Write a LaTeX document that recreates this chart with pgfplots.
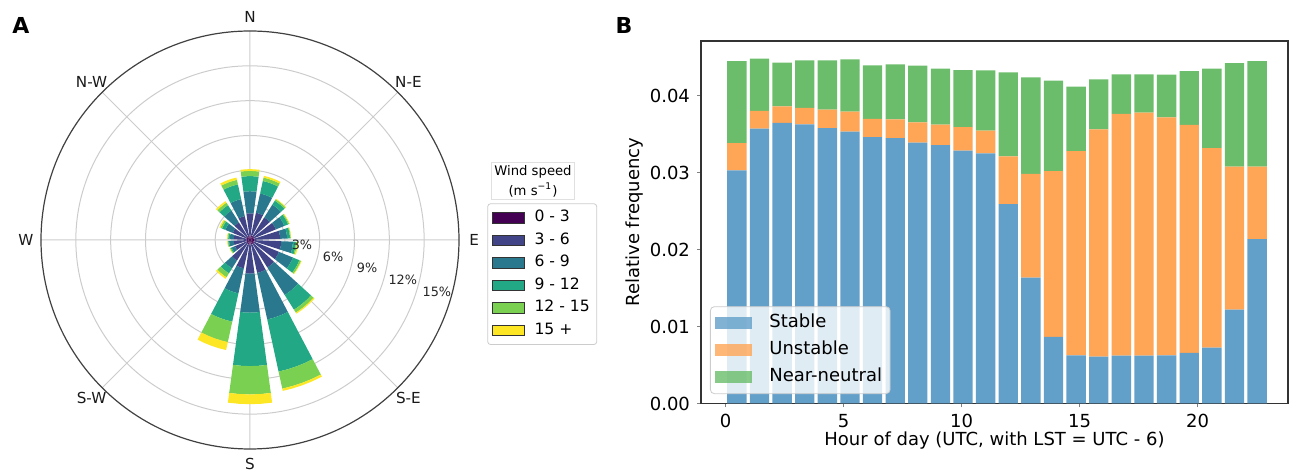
\documentclass[border=0pt]{standalone}
\usepackage{fontspec}
\setmainfont{DejaVu Sans}
\usepackage{pgfplots}
\usepackage{pgfplotstable}
\pgfplotsset{compat=1.18}
\usepgfplotslibrary{polar}

\definecolor{vir0}{HTML}{440154}
\definecolor{vir1}{HTML}{414487}
\definecolor{vir2}{HTML}{2A788E}
\definecolor{vir3}{HTML}{22A884}
\definecolor{vir4}{HTML}{7AD151}
\definecolor{vir5}{HTML}{FDE725}
\definecolor{cstable}{HTML}{62A0CA}
\definecolor{cunstable}{HTML}{FFA556}
\definecolor{cneutral}{HTML}{6BBD6B}

% cumulative radii (%) of the speed bins per direction (compass degrees)
\pgfplotstableread{
dir r1 r2 r3 r4 r5 r6
0   0.40 2.30 4.20 5.50 5.95 6.10
20  0.40 2.40 4.10 5.20 5.50 5.65
40  0.40 2.30 3.60 4.00 4.15 4.20
60  0.40 2.40 3.20 3.55 3.65 3.70
80  0.40 2.60 3.20 3.45 3.52 3.55
100 0.40 2.70 3.70 3.95 4.05 4.15
120 0.40 2.70 4.00 4.60 4.75 4.80
140 0.40 2.80 5.60 7.10 7.40 7.50
160 0.40 2.90 7.00 11.60 13.10 13.30
180 0.40 2.90 6.26 10.86 13.30 14.14
200 0.40 2.50 4.70 7.20 9.00 9.70
220 0.35 2.10 2.90 3.40 3.80 3.95
240 0.30 1.40 1.70 1.80 1.87 1.90
260 0.30 1.40 1.80 1.88 1.93 1.97
280 0.30 1.40 1.75 1.88 1.95 2.00
300 0.35 1.60 2.30 2.60 2.75 2.85
320 0.35 1.80 3.00 3.55 3.80 3.95
340 0.35 2.10 3.60 4.90 5.30 5.50
}\windtable

\pgfplotstableread{
x stable unstable neutral
0.479  0.03029 0.00354 0.01065
1.438  0.03569 0.00230 0.00679
2.396  0.03643 0.00217 0.00566
3.354  0.03626 0.00212 0.00619
4.313  0.03578 0.00238 0.00641
5.271  0.03530 0.00260 0.00680
6.229  0.03461 0.00234 0.00697
7.188  0.03448 0.00243 0.00714
8.146  0.03387 0.00265 0.00735
9.104  0.03357 0.00264 0.00727
10.063 0.03283 0.00308 0.00740
11.021 0.03247 0.00298 0.00780
11.979 0.02588 0.00622 0.01089
12.938 0.01634 0.01347 0.01255
13.896 0.00864 0.02155 0.01173
14.854 0.00626 0.02653 0.00835
15.813 0.00608 0.02953 0.00649
16.771 0.00621 0.03139 0.00515
17.729 0.00621 0.03156 0.00498
18.688 0.00626 0.03091 0.00553
19.646 0.00656 0.02961 0.00701
20.604 0.00725 0.02593 0.01030
21.563 0.01218 0.01857 0.01347
22.521 0.02136 0.00939 0.01373
}\hourtable

\newcommand\wedgeplot[4]{%
  \pgfmathsetmacro\wgA{90-#1-7.75}%
  \pgfmathsetmacro\wgB{90-#1-3.875}%
  \pgfmathsetmacro\wgC{90-#1}%
  \pgfmathsetmacro\wgD{90-#1+3.875}%
  \pgfmathsetmacro\wgE{90-#1+7.75}%
  \edef\wgcmd{\noexpand\addplot[fill=#4, draw=none, forget plot] coordinates {(\wgA,#2) (\wgB,#2) (\wgC,#2) (\wgD,#2) (\wgE,#2) (\wgE,#3) (\wgD,#3) (\wgC,#3) (\wgB,#3) (\wgA,#3)} --cycle;}%
  \wgcmd}

\pgfplotsset{
  roselegend/.style={legend image code/.code={\draw[##1, sharp corners, draw=black!80, line width=0.4pt] (0pt,-2.65pt) rectangle (16pt,2.65pt);}},
  barlegend/.style={legend image code/.code={\fill[##1, sharp corners] (0pt,-3pt) rectangle (18.5pt,3pt);}},
}

\begin{document}
\begin{tikzpicture}
\useasboundingbox (0,0) rectangle (649pt,235pt);
\begin{polaraxis}[
  at={(125pt,115pt)}, anchor=center,
  width=209pt, height=209pt, scale only axis,
  xmin=0, xmax=360, ymin=0, ymax=18,
  xtick={0,45,...,315},
  xticklabels={},
  ytick={3,6,9,12,15},
  yticklabels={},
  grid=major,
  major grid style={line width=0.5pt, draw=black!20},
  axis line style={line width=0.6pt, draw=black!75},
  y axis line style={draw=none},
  major tick length=0pt,
  clip=false,
]
\pgfplotsforeachungrouped \i in {0,...,17}{%
  \pgfplotstablegetelem{\i}{dir}\of\windtable \edef\wdir{\pgfplotsretval}%
  \pgfplotstablegetelem{\i}{r1}\of\windtable \edef\wra{\pgfplotsretval}%
  \pgfplotstablegetelem{\i}{r2}\of\windtable \edef\wrb{\pgfplotsretval}%
  \pgfplotstablegetelem{\i}{r3}\of\windtable \edef\wrc{\pgfplotsretval}%
  \pgfplotstablegetelem{\i}{r4}\of\windtable \edef\wrd{\pgfplotsretval}%
  \pgfplotstablegetelem{\i}{r5}\of\windtable \edef\wre{\pgfplotsretval}%
  \pgfplotstablegetelem{\i}{r6}\of\windtable \edef\wrf{\pgfplotsretval}%
  \wedgeplot{\wdir}{0}{\wra}{vir0}%
  \wedgeplot{\wdir}{\wra}{\wrb}{vir1}%
  \wedgeplot{\wdir}{\wrb}{\wrc}{vir2}%
  \wedgeplot{\wdir}{\wrc}{\wrd}{vir3}%
  \wedgeplot{\wdir}{\wrd}{\wre}{vir4}%
  \wedgeplot{\wdir}{\wre}{\wrf}{vir5}%
}
\begin{scope}[every node/.style={font=\fontsize{7.6}{9}\selectfont, text=black!90}]
\node at (axis cs:90,19.25) {N};
\node at (axis cs:45,19.3) {N-E};
\node at (axis cs:0,19.3) {E};
\node at (axis cs:-45,19.3) {S-E};
\node at (axis cs:-90,19.25) {S};
\node at (axis cs:-135,19.3) {S-W};
\node at (axis cs:180,19.3) {W};
\node at (axis cs:135,19.3) {N-W};
\end{scope}
\begin{scope}[every node/.style={font=\fontsize{6.4}{8}\selectfont, text=black!85}]
\node at (axis cs:-5.5,4.5) {3\%};
\node at (axis cs:-11.6,7.3) {6\%};
\node at (axis cs:-13.5,10.37) {9\%};
\node at (axis cs:-14.7,13.6) {12\%};
\node at (axis cs:-15.5,16.7) {15\%};
\end{scope}
\end{polaraxis}
\node[draw=black!12, align=center, font=\fontsize{6.6}{10}\selectfont, inner sep=1.5pt] at (266.5pt,144.5pt) {Wind speed\\(m s\textsuperscript{−1})};

% legend holder for the wind rose
\begin{axis}[
  at={(243.65pt,133.35pt)}, anchor=north west,
  width=5pt, height=5pt, scale only axis, hide axis,
  xmin=0, xmax=1, ymin=0, ymax=1,
  roselegend,
  legend entries={0 - 3,3 - 6,6 - 9,9 - 12,12 - 15,15 +},
  legend cell align=left,
  legend style={at={(0,1)}, anchor=north west, draw=black!20, rounded corners=1.5pt,
    font=\fontsize{7.8}{9}\selectfont, row sep=1.05pt, inner sep=2pt,
    /tikz/every odd column/.append style={column sep=3.5pt},
    nodes={text height=5.6pt, text depth=1.6pt, inner sep=1.5pt}},
]
\addlegendimage{fill=vir0}
\addlegendimage{fill=vir1}
\addlegendimage{fill=vir2}
\addlegendimage{fill=vir3}
\addlegendimage{fill=vir4}
\addlegendimage{fill=vir5}
\end{axis}

\begin{axis}[
  at={(350.5pt,33.25pt)}, anchor=south west,
  width=293.5pt, height=181.25pt, scale only axis,
  xmin=-1.04, xmax=23.83, ymin=0, ymax=0.04708,
  ybar stacked, bar width=0.82,
  xtick={0,5,10,15,20}, ytick={0,0.01,0.02,0.03,0.04},
  scaled y ticks=false,
  yticklabel style={/pgf/number format/.cd, fixed, fixed zerofill, precision=2},
  /pgf/number format/assume math mode=true,
  tick label style={font=\fontsize{9}{11}\selectfont},
  label style={font=\fontsize{9}{11}\selectfont},
  tick align=outside, tick pos=left, major tick length=2pt,
  axis line style={line width=0.6pt, draw=black!80},
  xlabel={Hour of day (UTC, with LST = UTC - 6)},
  ylabel={Relative frequency},
  xlabel style={at={(axis description cs:0.5,-0.102)}, anchor=center},
  ylabel style={at={(axis description cs:-0.1124,0.5)}, anchor=center},
  legend cell align=left,
  legend style={at={(0.0153,0.026)}, anchor=south west, fill=white, fill opacity=0.8, text opacity=1,
    draw=black!20, rounded corners=2pt, font=\fontsize{9}{11}\selectfont,
    row sep=2pt, inner sep=2.5pt,
    /tikz/every odd column/.append style={column sep=7pt},
    nodes={text height=6.6pt, text depth=1.9pt, inner sep=1.5pt}},
]
\addplot[fill=cstable, draw=none, barlegend] table[x=x, y=stable] {\hourtable};
\addplot[fill=cunstable, draw=none, barlegend] table[x=x, y=unstable] {\hourtable};
\addplot[fill=cneutral, draw=none, barlegend] table[x=x, y=neutral] {\hourtable};
\legend{Stable, Unstable, Near-neutral}
\end{axis}

\node[font=\bfseries\fontsize{11}{12}\selectfont] at (10.5pt,222.5pt) {A};
\node[font=\bfseries\fontsize{11}{12}\selectfont] at (312pt,222.5pt) {B};
\end{tikzpicture}
\end{document}
